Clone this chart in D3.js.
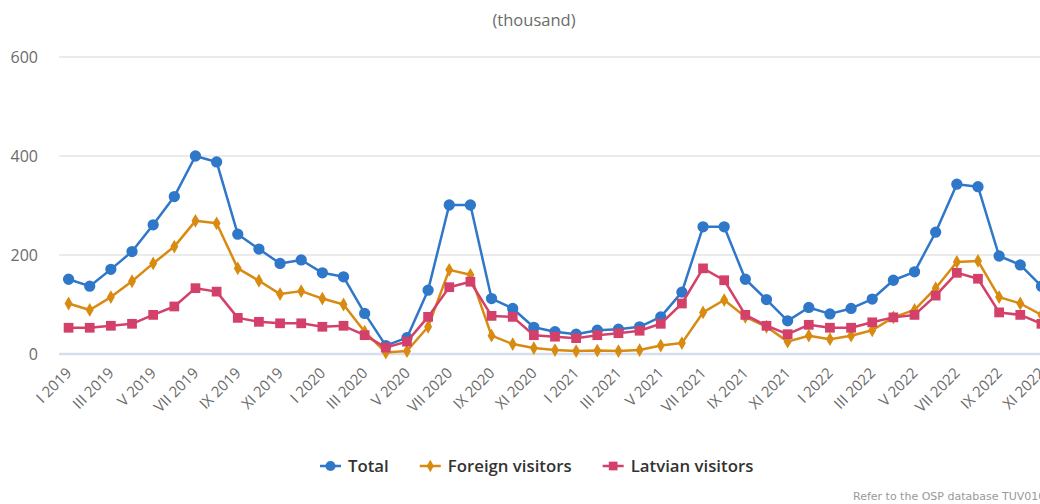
<!DOCTYPE html>
<html>
<head>
<meta charset="utf-8">
<script src="https://cdn.jsdelivr.net/npm/d3@7"></script>
<style>
  html, body { margin: 0; padding: 0; background: #fff; overflow: hidden; }
  svg { display: block; font-family: "Open Sans", "DejaVu Sans", sans-serif; }
</style>
</head>
<body>
<main></main>
<script>
const roman = ["I", "II", "III", "IV", "V", "VI", "VII", "VIII", "IX", "X", "XI", "XII"]
const years = [2019, 2020, 2021, 2022]
const months = years.flatMap(y => roman.map(r => r + " " + y)).slice(0, 47)

const total = [151, 137, 171, 207, 261, 318, 400, 388, 242, 212, 183, 190,
  164, 156, 82, 17, 33, 129, 301, 301, 112, 92, 54, 45,
  40, 48, 50, 55, 75, 125, 257, 257, 151, 110, 67, 94,
  81, 92, 111, 149, 166, 246, 343, 338, 198, 180, 137]
const foreign = [102, 89, 115, 147, 183, 217, 269, 264, 173, 148, 121, 127,
  112, 100, 45, 3, 6, 55, 170, 160, 37, 20, 12, 8,
  6, 7, 6, 8, 17, 22, 84, 109, 75, 55, 25, 37,
  30, 37, 48, 74, 89, 133, 186, 188, 115, 102, 79]
const latvian = [53, 53, 57, 61, 79, 96, 133, 126, 73, 65, 62, 62,
  55, 57, 38, 13, 25, 75, 135, 146, 77, 75, 38, 35,
  32, 38, 42, 47, 61, 102, 173, 149, 79, 57, 40, 59,
  53, 53, 64, 74, 79, 118, 164, 152, 84, 79, 61]
const yTicks = [0, 200, 400, 600]

const series = [
  { name: "Total", values: total, color: "#2f77c8", symbol: d3.symbolCircle, size: 100 },
  { name: "Foreign visitors", values: foreign, color: "#d98a10", symbol: d3.symbolDiamond, size: 55 },
  { name: "Latvian visitors", values: latvian, color: "#d3416b", symbol: d3.symbolSquare, size: 95 }
]

const width = 1069, height = 504
const margin = { top: 57, bottom: 150, left: 58, right: 17 }

const svg = d3.select("main").append("svg")
  .attr("width", width)
  .attr("height", height)

const x = d3.scaleBand().domain(months).range([margin.left, width - margin.right])
const cx = m => x(m) + x.bandwidth() / 2
const y = d3.scaleLinear().domain([0, 600]).range([height - margin.bottom, margin.top])

// title
svg.append("text")
  .attr("x", 534).attr("y", 26)
  .attr("text-anchor", "middle")
  .attr("font-size", 16.5).attr("fill", "#6b6b6b")
  .text("(thousand)")

// grid + y labels
let grid = svg.append("g")
grid.selectAll("line").data(yTicks.filter(d => d > 0)).enter().append("line")
  .attr("x1", margin.left + 1).attr("x2", width)
  .attr("y1", d => y(d)).attr("y2", d => y(d))
  .attr("stroke", "#e4e4e4").attr("stroke-width", 1.5)
grid.append("line")
  .attr("x1", margin.left + 1).attr("x2", width)
  .attr("y1", y(0)).attr("y2", y(0))
  .attr("stroke", "#d5deea").attr("stroke-width", 2.5)

svg.append("g").selectAll("text").data(yTicks).enter().append("text")
  .attr("x", 38).attr("y", d => y(d))
  .attr("dy", "0.35em")
  .attr("text-anchor", "end")
  .attr("font-size", 16).attr("fill", "#6b6b6b")
  .text(d => d)

// x labels, every other month
svg.append("g").selectAll("text").data(months.filter((m, i) => i % 2 == 0)).enter().append("text")
  .attr("transform", m => `translate(${cx(m) + 4},${y(0) + 20}) rotate(-45)`)
  .attr("text-anchor", "end")
  .attr("font-size", 15).attr("fill", "#6b6b6b")
  .text(m => m)

// lines + markers
let line = d3.line().x((d, i) => cx(months[i])).y(d => y(d))

series.forEach(s => {
  let g = svg.append("g")
  g.append("path")
    .attr("d", line(s.values))
    .attr("fill", "none")
    .attr("stroke", s.color)
    .attr("stroke-width", 2.5)
    .attr("stroke-linejoin", "round")
  g.selectAll("path.pt").data(s.values).enter().append("path")
    .attr("class", "pt")
    .attr("transform", (d, i) => `translate(${cx(months[i])},${y(d)})`)
    .attr("d", d3.symbol().type(s.symbol).size(s.size))
    .attr("fill", s.color)
})

// legend
let legend = svg.append("g")
let lx = 320
series.forEach(s => {
  let item = legend.append("g").attr("transform", `translate(${lx},466)`)
  item.append("line").attr("x1", 0).attr("x2", 21)
    .attr("stroke", s.color).attr("stroke-width", 2.5)
  item.append("path").attr("transform", "translate(10.5,0)")
    .attr("d", d3.symbol().type(s.symbol).size(s.size * 0.8))
    .attr("fill", s.color)
  let t = item.append("text").attr("x", 28).attr("dy", "0.35em")
    .attr("font-size", 16.8).attr("font-weight", 600).attr("fill", "#333")
    .text(s.name)
  lx += 28 + t.node().getComputedTextLength() + 31
})

// source note
svg.append("text")
  .attr("x", 853).attr("y", 500)
  .attr("font-family", "DejaVu Sans")
  .attr("font-size", 11).attr("fill", "#999")
  .text("Refer to the OSP database TUV010m")
</script>
</body>
</html>
